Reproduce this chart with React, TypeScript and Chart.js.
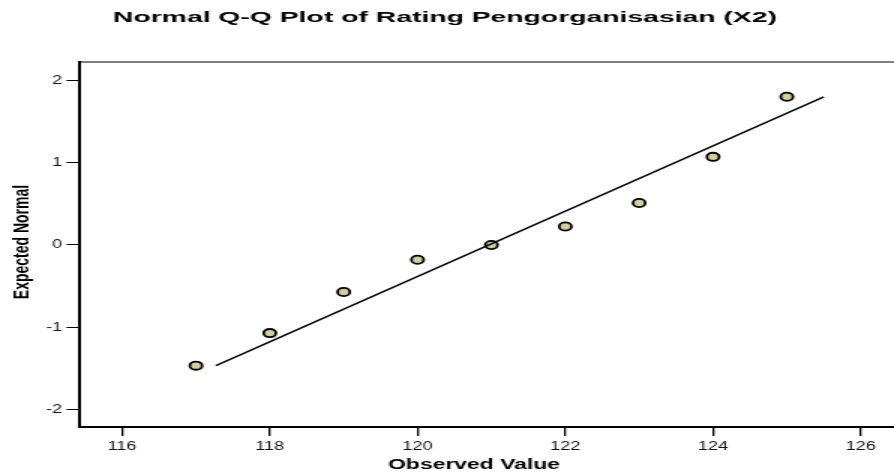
import React, { useEffect, useRef } from "react";
import { Chart, registerables } from "chart.js";

Chart.register(...registerables);

// ---- data ----
const observedValues = [117, 118, 119, 120, 121, 122, 123, 124, 125];
const expectedNormal = [-1.465, -1.07, -0.57, -0.18, 0.0, 0.225, 0.51, 1.07, 1.8];
const refLineX = [117.27, 125.5];
const refLineY = [-1.465, 1.8];
const xTickValues = [116, 118, 120, 122, 124, 126];
const yTickValues = [-2, -1, 0, 1, 2];
const titleText = "Normal Q-Q Plot of Rating Pengorganisasian (X2)";
const xTitleText = "Observed Value";
const yTitleText = "Expected Normal";

const DISPLAY_W = 894;
const DISPLAY_H = 472;
const STRETCH = 1.5;
const INTERNAL_W = Math.round(DISPLAY_W / STRETCH);
const FONT = "'Liberation Sans', Arial, Helvetica, sans-serif";

const textPlugin = {
  id: "qqText",
  afterDraw(chart: any) {
    const ctx = chart.ctx as CanvasRenderingContext2D;
    const ca = chart.chartArea;
    ctx.save();
    // top frame line
    ctx.strokeStyle = "#000";
    ctx.lineWidth = 1.2;
    ctx.beginPath();
    ctx.moveTo(ca.left, ca.top);
    ctx.lineTo(ca.right, ca.top);
    ctx.stroke();

    ctx.fillStyle = "#000";
    const drawFit = (text: string, cx: number, by: number, targetW: number | null, size: number) => {
      ctx.font = `bold ${size}px ${FONT}`;
      ctx.textAlign = "center";
      ctx.textBaseline = "alphabetic";
      const w = ctx.measureText(text).width;
      const sx = targetW ? targetW / w : 1;
      ctx.save();
      ctx.translate(cx, by);
      ctx.scale(sx, 1);
      ctx.fillText(text, 0, 0);
      ctx.restore();
    };
    drawFit(titleText, 445 / STRETCH, 22.3, 664 / STRETCH, 14);
    drawFit(xTitleText, 474 / STRETCH, 469.3, 172 / STRETCH, 14);

    // y title rotated
    ctx.save();
    ctx.translate(28.5 / STRETCH, 242);
    ctx.rotate(-Math.PI / 2);
    ctx.font = `bold 14px ${FONT}`;
    ctx.textAlign = "center";
    ctx.textBaseline = "alphabetic";
    ctx.fillText(yTitleText, 0, 0);
    ctx.restore();
    ctx.restore();
  },
};

export default function App() {
  const ref = useRef<HTMLCanvasElement | null>(null);

  useEffect(() => {
    document.body.style.margin = "0";
    const canvas = ref.current;
    if (!canvas) return;
    const chart = new Chart(canvas, {
      type: "scatter",
      data: {
        datasets: [
          {
            type: "line",
            data: refLineX.map((x, i) => ({ x, y: refLineY[i] })),
            borderColor: "#000",
            borderWidth: 1.5,
            pointRadius: 0,
            fill: false,
            showLine: true,
          } as any,
          {
            data: observedValues.map((x, i) => ({ x, y: expectedNormal[i] })),
            backgroundColor: "#d4cd9c",
            borderColor: "#000",
            borderWidth: 1.8,
            pointRadius: 4.1,
            pointHoverRadius: 4.1,
          },
        ],
      },
      options: {
        responsive: false,
        animation: false,
        devicePixelRatio: 1,
        layout: { autoPadding: false, padding: { top: 62, left: 0, right: 0, bottom: 0 } },
        plugins: {
          legend: { display: false },
          title: { display: false },
          tooltip: { enabled: false },
        },
        scales: {
          x: {
            type: "linear",
            min: 115.43,
            max: 126.45,
            afterBuildTicks: (scale: any) => {
              scale.ticks = xTickValues.map((v) => ({ value: v }));
            },
            afterFit: (scale: any) => {
              scale.height = 45;
              scale.paddingLeft = 0;
              scale.paddingRight = 0;
            },
            grid: {
              drawOnChartArea: false,
              drawTicks: true,
              tickLength: 9,
              color: "#000",
              lineWidth: 1.3,
            },
            border: { display: true, color: "#000", width: 2 },
            ticks: {
              padding: 3,
              color: "#111",
              font: { family: FONT, size: 12 },
              maxRotation: 0,
              autoSkip: false,
            },
          },
          y: {
            type: "linear",
            min: -2.21,
            max: 2.222,
            afterBuildTicks: (scale: any) => {
              scale.ticks = yTickValues.map((v) => ({ value: v }));
            },
            afterFit: (scale: any) => {
              scale.width = 80 / STRETCH;
              scale.paddingTop = 0;
              scale.paddingBottom = 0;
            },
            grid: {
              drawOnChartArea: false,
              drawTicks: true,
              tickLength: 9,
              color: "#000",
              lineWidth: 1,
            },
            border: { display: true, color: "#000", width: 2 },
            ticks: {
              padding: 3,
              color: "#111",
              font: { family: FONT, size: 12 },
              autoSkip: false,
            },
          },
        },
      },
      plugins: [textPlugin],
    });
    return () => chart.destroy();
  }, []);

  return (
    <div style={{ width: DISPLAY_W, height: DISPLAY_H, position: "relative", background: "#fff" }}>
      <canvas
        ref={ref}
        width={INTERNAL_W}
        height={DISPLAY_H}
        style={{ width: DISPLAY_W + "px", height: DISPLAY_H + "px", display: "block" }}
      />
    </div>
  );
}
